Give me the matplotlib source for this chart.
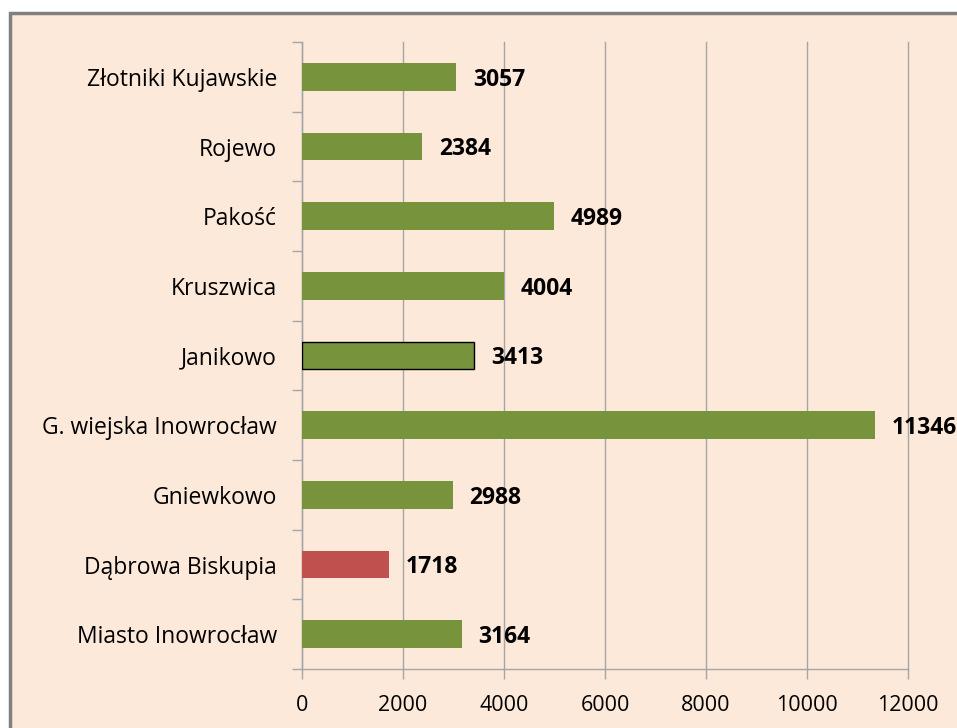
import matplotlib.pyplot as plt
from matplotlib.patches import Rectangle

gminy = ['Miasto Inowrocław', 'Dąbrowa Biskupia', 'Gniewkowo',
         'G. wiejska Inowrocław', 'Janikowo', 'Kruszwica', 'Pakość',
         'Rojewo', 'Złotniki Kujawskie']
wartosci = [3164, 1718, 2988, 11346, 3413, 4004, 4989, 2384, 3057]
xticks = [0, 2000, 4000, 6000, 8000, 10000, 12000]

green = '#77933C'
red = '#C0504D'
bg = '#FDE9D9'
grid = '#A6A6A6'

plt.rcParams['font.family'] = ['Open Sans', 'DejaVu Sans']

fig = plt.figure(figsize=(9.57, 7.28), dpi=100, facecolor='white')
# chart frame, runs off the right and bottom edge
fig.patches.append(Rectangle((10 / 957, -0.1), 1.2, 0.1 + (728 - 13) / 728,
                             transform=fig.transFigure, facecolor=bg,
                             edgecolor='#808080', linewidth=2.5, zorder=-10))

ax = fig.add_axes([302 / 957, 59 / 728, 606 / 957, 627 / 728])
ax.set_facecolor('none')

colors = [green] * len(gminy)
colors[1] = red
edges = ['none'] * len(gminy)
edges[4] = 'black'
pos = list(range(len(gminy)))
bars = ax.barh(pos, wartosci, height=0.4, color=colors, zorder=3)
for b, e in zip(bars, edges):
    if e != 'none':
        b.set_edgecolor(e)
        b.set_linewidth(1)

for p, v in zip(pos, wartosci):
    ax.annotate(str(v), (v, p), xytext=(12, -2), textcoords='offset points',
                ha='left', va='center', fontsize=16.5, fontweight='bold',
                annotation_clip=False, clip_on=False)

ax.set_xlim(0, 12000)
ax.set_ylim(-0.5, len(gminy) - 0.5)
ax.set_xticks(xticks)
ax.set_xticklabels([str(t) for t in xticks], fontsize=15.5)
ax.set_yticks([i - 0.5 for i in range(len(gminy) + 1)])
ax.set_yticklabels([])
ax.set_yticks(pos, minor=True)
ax.set_yticklabels(gminy, minor=True, fontsize=16.5)
ax.tick_params(axis='y', which='minor', length=0, pad=18)
ax.tick_params(axis='y', which='major', length=7, color=grid, width=1)
ax.tick_params(axis='x', length=7, color=grid, width=1, pad=12)
ax.grid(axis='x', color=grid, linewidth=1, zorder=0)
for gl in ax.get_xgridlines():
    gl.set_clip_on(False)
for s in ['top', 'right']:
    ax.spines[s].set_visible(False)
for s in ['left', 'bottom']:
    ax.spines[s].set_color(grid)
    ax.spines[s].set_linewidth(1)

fig.savefig('out.png', dpi=100, facecolor='white')
